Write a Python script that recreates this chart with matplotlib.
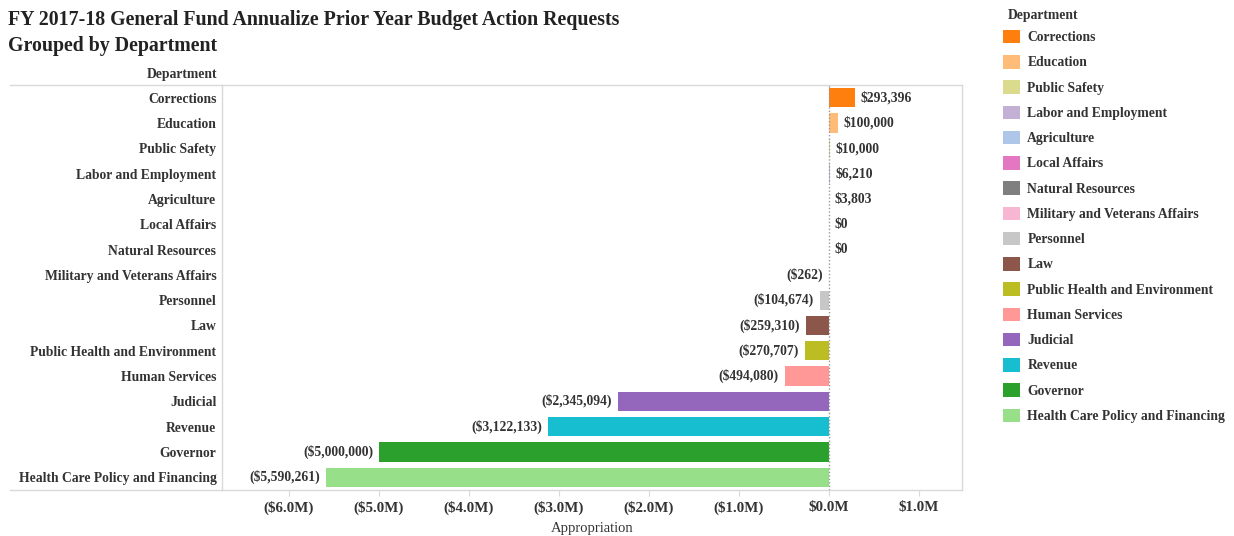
import matplotlib.pyplot as plt
from matplotlib.patches import Patch
from matplotlib.ticker import FuncFormatter

departments = ['Corrections', 'Education', 'Public Safety', 'Labor and Employment',
               'Agriculture', 'Local Affairs', 'Natural Resources',
               'Military and Veterans Affairs', 'Personnel', 'Law',
               'Public Health and Environment', 'Human Services', 'Judicial',
               'Revenue', 'Governor', 'Health Care Policy and Financing']
appropriation = [293396, 100000, 10000, 6210, 3803, 0, 0, -262, -104674,
                 -259310, -270707, -494080, -2345094, -3122133, -5000000,
                 -5590261]
colors = ['#ff7f0e', '#ffbb78', '#dbdb8d', '#c5b0d5', '#aec7e8', '#e377c2',
          '#7f7f7f', '#f7b6d2', '#c7c7c7', '#8c564b', '#bcbd22', '#ff9896',
          '#9467bd', '#17becf', '#2ca02c', '#98df8a']
tick_values = [-6e6, -5e6, -4e6, -3e6, -2e6, -1e6, 0, 1e6]

plt.rcParams['font.family'] = ['Liberation Serif', 'DejaVu Serif']
plt.rcParams['font.weight'] = 'bold'
txt = '#333333'
grid = '#d9d9d9'
fs = 9.8


def money(v):
    if v < 0:
        return '(${:,.0f})'.format(-v)
    return '${:,.0f}'.format(v)


def money_m(v, pos):
    if v < -1e-6:
        return '(${:.1f}M)'.format(-v / 1e6)
    return '${:.1f}M'.format(abs(v) / 1e6)


fig = plt.figure(figsize=(12.34, 5.36), dpi=100)
ax = fig.add_axes([222 / 1234, 1 - 490 / 536, 740 / 1234, 405 / 536])

rows = list(range(len(departments)))
bars = ax.barh(rows, appropriation, height=0.76, color=colors)
ax.bar_label(bars, labels=[money(v) for v in appropriation], padding=4,
             fontsize=fs, color=txt, fontweight='bold')

ax.axvline(0, color='#999999', lw=1, ls=(0, (1, 1.5)), zorder=3)

ax.set_xlim(-6.744e6, 1.478e6)
ax.set_ylim(15.5, -0.5)
ax.set_xticks(tick_values)
ax.xaxis.set_major_formatter(FuncFormatter(money_m))
ax.tick_params(axis='x', length=4, color=grid, labelsize=10.8, labelcolor=txt, pad=4)
ax.set_yticks(rows)
ax.set_yticklabels(departments)
ax.tick_params(axis='y', length=0, labelsize=fs, labelcolor=txt, pad=4)
for s in ax.spines.values():
    s.set_color(grid)
    s.set_linewidth(1)
ax.set_xlabel('Appropriation', fontsize=10.5, color=txt, labelpad=5)

# header row lines run across the label column too
for yy in (0, 1):
    ax.plot([-0.2865, 0], [yy, yy], transform=ax.transAxes, clip_on=False,
            color=grid, lw=1)
ax.text(-0.006, 1.009, 'Department', transform=ax.transAxes, ha='right',
        va='bottom', fontsize=fs, color=txt)

fig.text(8 / 1234, 1 - 10 / 536, 'FY 2017-18 General Fund Annualize Prior Year Budget Action Requests\nGrouped by Department',
         ha='left', va='top', fontsize=14.3, color='#222222', linespacing=1.38)

# colour legend on the right
fig.text(1008 / 1234, 1 - 16 / 536, 'Department', ha='left', va='center',
         fontsize=fs, color=txt)
handles = [Patch(facecolor=c, edgecolor='none', label=d) for c, d in zip(colors, departments)]
leg = fig.legend(handles=handles, loc='upper left', bbox_to_anchor=(996 / 1234, 1 - 23 / 536),
                 frameon=False, fontsize=fs, handlelength=1.25, handleheight=1.15,
                 labelspacing=0.8, handletextpad=0.55, borderpad=0.0)
for t in leg.get_texts():
    t.set_color(txt)

fig.savefig('out.png', dpi=100)
